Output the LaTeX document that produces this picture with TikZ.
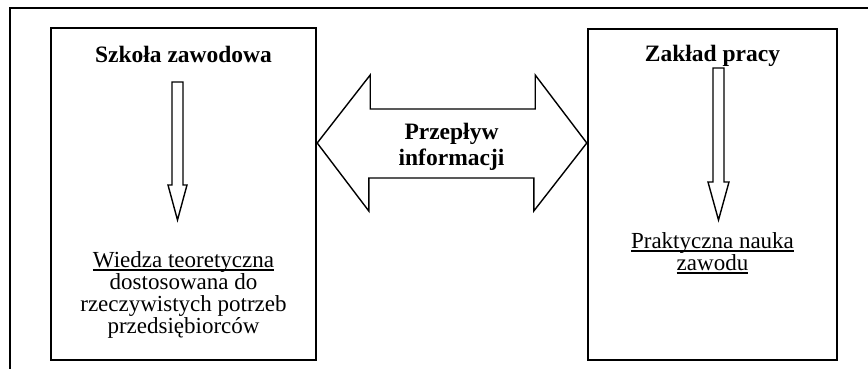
\documentclass[tikz,border=0pt]{standalone}
\usepackage{fontspec}
\setmainfont{Liberation Serif}
\usetikzlibrary{calc}

\newcommand{\tightlines}{\lineskiplimit=-20pt\relax}
% underline close under the baseline, as a word processor does
\newcommand{\wordul}[1]{\leavevmode\setbox0\hbox{#1}\rlap{\rule[-3.4pt]{\wd0}{1.4pt}}\box0}
% hollow arrow pointing down: top point, tip, half shaft, half head, head length
\newcommand{\blockdown}[5]{%
  \draw[blockarrow] ($(#1)+(-#3,0)$) -- ($(#1)+(#3,0)$) -- ($(#2)+(#3,-#5)$)
    -- ($(#2)+(#4,-#5)$) -- (#2) -- ($(#2)+(-#4,-#5)$) -- ($(#2)+(-#3,-#5)$) -- cycle;}

\begin{document}
\begin{tikzpicture}[x=1pt,y=-1pt,
  box/.style={draw,line width=2.4pt,inner sep=0pt},
  title/.style={font=\fontsize{23.5}{26}\selectfont\bfseries,inner sep=0pt},
  body/.style={font=\fontsize{23}{22}\selectfont\tightlines,align=center,inner sep=0pt},
  blockarrow/.style={draw,line width=1.4pt,line join=miter}]
  \useasboundingbox (0,0) rectangle (868,369);
  \draw[line width=1.8pt] (10,369) -- (10,8) -- (868,8);

  \node[box,minimum width=265pt,minimum height=332pt] (school) at (183.5,194) {};
  \node[box,minimum width=249pt,minimum height=331pt] (work) at (712.5,194.5) {};

  \node[title,anchor=base] (schooltitle) at (183.5,63) {Szkoła zawodowa};
  \node[title,anchor=base] (worktitle) at (712.5,62) {Zakład pracy};

  \node[body,anchor=north] (schooltext) at (183.5,251)
    {\wordul{Wiedza teoretyczna}\\dostosowana do\\rzeczywistych potrzeb\\przedsiębiorców};
  \node[body,anchor=north] (worktext) at (712.5,232)
    {\wordul{Praktyczna nauka}\\\wordul{zawodu}};

  % down arrows
  \coordinate (st) at (177.5,82);
  \coordinate (sb) at (177.5,220);
  \coordinate (wt) at (718.5,68);
  \coordinate (wb) at (718.5,220);
  \blockdown{st}{sb}{5.5}{9.5}{35}
  \blockdown{wt}{wb}{5.5}{10.5}{38}

  % flow between the two
  \coordinate (mid) at (451.5,143);
  \node[title,align=center] (flow) at (451.5,147) {Przepływ\\informacji};
  \draw[blockarrow] (school.east |- mid) -- ++(53,-68) -- ++(0,34) -- ++(165,0)
    -- ++(0,-34) -- (work.west |- mid) -- ++(-53,68) -- ++(0,-33) -- ++(-165,0)
    -- ++(0,33) -- cycle;
\end{tikzpicture}
\end{document}
